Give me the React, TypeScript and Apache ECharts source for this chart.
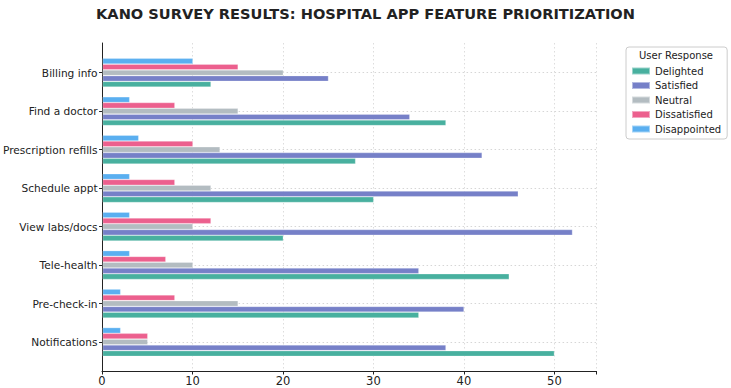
import React, { useEffect, useRef } from "react";
import * as echarts from "echarts";

const categories = [
  "Billing info",
  "Find a doctor",
  "Prescription refills",
  "Schedule appt",
  "View labs/docs",
  "Tele-health",
  "Pre-check-in",
  "Notifications",
];
const delighted = [12, 38, 28, 30, 20, 45, 35, 50];
const satisfied = [25, 34, 42, 46, 52, 35, 40, 38];
const neutral = [20, 15, 13, 12, 10, 10, 15, 5];
const dissatisfied = [15, 8, 10, 8, 12, 7, 8, 5];
const disappointed = [10, 3, 4, 3, 3, 3, 2, 2];
const xTicks = [0, 10, 20, 30, 40, 50];
const legendOrder = ["Delighted", "Satisfied", "Neutral", "Dissatisfied", "Disappointed"];

const FONT = "DejaVu Sans";

export default function App() {
  const ref = useRef<HTMLDivElement>(null);
  useEffect(() => {
    if (!ref.current) return;
    const chart = echarts.init(ref.current, null, { renderer: "svg" });
    const seriesDefs = [
      { name: "Disappointed", data: disappointed, color: "#5aaff0" },
      { name: "Dissatisfied", data: dissatisfied, color: "#ec608e" },
      { name: "Neutral", data: neutral, color: "#b3bcc1" },
      { name: "Satisfied", data: satisfied, color: "#7680c8" },
      { name: "Delighted", data: delighted, color: "#48b09f" },
    ];
    const xmax = 54.6;
    chart.setOption({
      animation: false,
      textStyle: { fontFamily: FONT },
      title: {
        text: "KANO SURVEY RESULTS: HOSPITAL APP FEATURE PRIORITIZATION",
        left: "center",
        top: 1,
        textStyle: { fontFamily: FONT, fontSize: 14.6, fontWeight: "bold", color: "#222" },
      },
      legend: {
        data: legendOrder,
        orient: "vertical",
        left: 626,
        top: 47,
        padding: [18, 6, 4, 5],
        borderColor: "#cccccc",
        borderWidth: 1,
        borderRadius: 3,
        itemWidth: 18,
        itemHeight: 7,
        itemGap: 2.5,
        icon: "rect",
        textStyle: { fontFamily: FONT, fontSize: 10, color: "#222", lineHeight: 12 },
      },
      graphic: [
        {
          type: "text",
          left: 639,
          top: 50,
          style: { text: "User Response", fontFamily: FONT, fontSize: 10, fill: "#222" },
        },
      ],
      grid: [
        { left: 102, right: 135, top: 43, bottom: 17 },
        { left: 102, right: 135, top: 53.5, bottom: 26.8 },
      ],
      xAxis: [
        {
          type: "value",
          gridIndex: 0,
          min: 0,
          max: xmax,
          interval: 10,
          axisLine: { show: true, lineStyle: { color: "#222", width: 1 } },
          axisTick: { show: true, length: 3.5, lineStyle: { color: "#222" } },
          axisLabel: {
            margin: 4,
            fontSize: 11.5,
            color: "#222",
            fontFamily: FONT,
            formatter: (v: number) => (xTicks.includes(v) ? String(v) : ""),
          },
          splitLine: { show: true, lineStyle: { color: "#dddddd", type: [1.5, 2.5], width: 1 } },
        },
        {
          type: "value",
          gridIndex: 1,
          min: 0,
          max: xmax,
          show: false,
          splitLine: { show: false },
        },
      ],
      yAxis: [
        {
          type: "value",
          gridIndex: 0,
          min: 0,
          max: 1,
          axisLine: { show: true, lineStyle: { color: "#222", width: 1 } },
          axisTick: { show: false },
          axisLabel: { show: false },
          splitLine: { show: false },
        },
        {
          type: "category",
          gridIndex: 1,
          data: categories,
          inverse: true,
          axisLine: { show: false },
          axisTick: { show: true, length: 3.5, alignWithLabel: true, lineStyle: { color: "#222" } },
          axisLabel: { margin: 5, fontSize: 10.6, color: "#222", fontFamily: FONT },
          splitLine: {
            show: true,
            alignWithLabel: true,
            lineStyle: { color: "#d6d6d6", type: [1.5, 2.5], width: 1 },
          },
        },
      ],
      series: seriesDefs.map((s) => ({
        type: "bar",
        name: s.name,
        data: s.data,
        xAxisIndex: 1,
        yAxisIndex: 1,
        barWidth: "15%",
        barGap: "0%",
        itemStyle: {
          color: s.color,
          borderColor: "rgba(255,255,255,0.45)",
          borderWidth: 0.6,
        },
      })),
    });
    return () => chart.dispose();
  }, []);
  return (
    <div
      ref={ref}
      style={{ position: "absolute", left: 0, top: 0, width: 731, height: 388 }}
    />
  );
}
